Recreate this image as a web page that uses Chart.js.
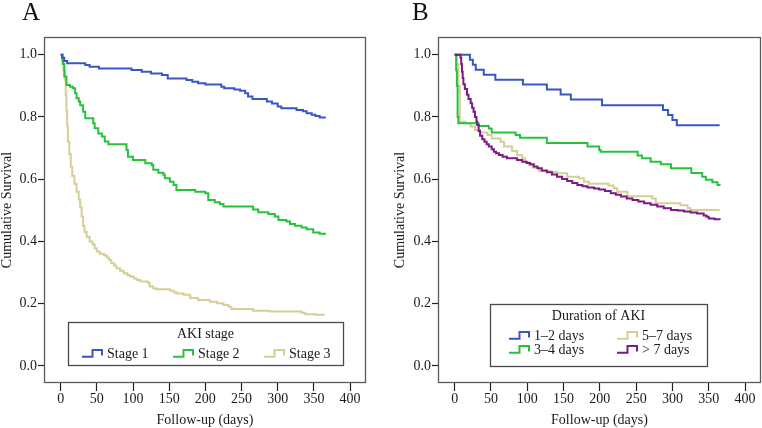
<!DOCTYPE html>
<html><head><meta charset="utf-8">
<script src="https://cdn.jsdelivr.net/npm/chart.js@4/dist/chart.umd.min.js"></script>
<style>
html,body{margin:0;padding:0;background:#fff;}
#wrap{position:relative;width:762px;height:428px;overflow:hidden;background:#fff;}
canvas{position:absolute;top:0;}
.lbl{position:absolute;font-family:"Liberation Serif","Times New Roman",serif;font-size:25px;line-height:1;top:-1px;color:#111;}
</style></head>
<body><div id="wrap">
<canvas id="cA" width="381" height="428" style="left:0;width:381px;height:428px"></canvas>
<canvas id="cB" width="381" height="428" style="left:381px;width:381px;height:428px"></canvas>
<div class="lbl" style="left:22px">A</div>
<div class="lbl" style="left:412px">B</div>
</div>
<script>
// ---- tick labels ----
const xTicks = [0, 50, 100, 150, 200, 250, 300, 350, 400];
const yTicks = [0.0, 0.2, 0.4, 0.6, 0.8, 1.0];

// ---- Panel A: AKI stage ----
const legendTitleA = 'AKI stage';
const seriesA = ['Stage 1', 'Stage 2', 'Stage 3'];
const stage1Days = [0,2,5,9,34,40,53,98,112,125,140,148,174,182,190,200,222,226,240,248,255,259,265,285,292,300,305,326,335,340,347,352,358,365];
const stage1Surv = [1.0,0.99,0.98,0.973,0.967,0.961,0.956,0.951,0.945,0.940,0.935,0.924,0.919,0.913,0.908,0.904,0.897,0.892,0.888,0.884,0.876,0.866,0.858,0.850,0.843,0.834,0.828,0.822,0.818,0.812,0.807,0.803,0.798,0.795];
const stage2Days = [0,3,5,8,13,17,20,22,25,27,31,34,45,47,52,57,61,66,91,93,100,117,126,128,135,142,144,151,156,160,186,200,204,213,220,225,266,273,287,296,301,312,317,324,333,340,349,358,365];
const stage2Surv = [1.0,0.97,0.93,0.903,0.897,0.892,0.876,0.86,0.85,0.838,0.817,0.796,0.78,0.764,0.747,0.737,0.721,0.712,0.694,0.672,0.662,0.651,0.646,0.63,0.621,0.614,0.603,0.592,0.581,0.565,0.56,0.555,0.533,0.526,0.52,0.512,0.503,0.494,0.488,0.48,0.469,0.464,0.456,0.45,0.445,0.439,0.429,0.425,0.421];
const stage3Days = [0,2,4,6,7,8,9,10,12,14,16,19,22,25,27,29,31,33,36,40,44,47,50,54,60,64,67,70,74,77,82,87,92,96,101,105,110,121,123,128,133,151,156,160,170,179,190,206,216,225,232,236,266,289,333,338,352,365];
const stage3Surv = [1.0,0.98,0.95,0.92,0.87,0.82,0.77,0.72,0.68,0.64,0.61,0.585,0.56,0.535,0.51,0.48,0.45,0.43,0.415,0.4,0.39,0.378,0.368,0.36,0.355,0.348,0.34,0.33,0.322,0.314,0.306,0.298,0.292,0.287,0.281,0.276,0.271,0.266,0.255,0.249,0.246,0.242,0.237,0.233,0.229,0.218,0.212,0.206,0.201,0.196,0.19,0.183,0.177,0.175,0.171,0.166,0.164,0.164];

// ---- Panel B: Duration of AKI ----
const legendTitleB = 'Duration of AKI';
const seriesB = ['1\u20132 days', '3\u20134 days', '5\u20137 days', '> 7 days'];
const dur12Days = [0,21,25,29,40,56,94,127,146,160,203,287,294,300,306,365];
const dur12Surv = [1.0,0.984,0.968,0.952,0.936,0.92,0.904,0.888,0.872,0.856,0.838,0.822,0.806,0.79,0.773,0.773];
const dur34Days = [0,2,3,4,5,33,47,51,84,90,127,183,199,201,252,258,270,284,298,326,341,346,355,362,365];
const dur34Surv = [1.0,0.95,0.9,0.8,0.78,0.771,0.763,0.75,0.742,0.733,0.716,0.705,0.694,0.688,0.676,0.667,0.656,0.648,0.635,0.62,0.608,0.598,0.59,0.581,0.579];
const dur57Days = [0,3,5,7,15,22,28,35,45,51,63,68,79,86,93,97,102,107,116,132,141,155,171,178,185,212,219,224,238,272,277,311,321,325,365];
const dur57Surv = [1.0,0.97,0.9,0.785,0.78,0.769,0.758,0.75,0.742,0.731,0.72,0.705,0.691,0.678,0.667,0.656,0.646,0.637,0.626,0.623,0.619,0.608,0.603,0.592,0.585,0.58,0.571,0.56,0.545,0.538,0.523,0.516,0.507,0.501,0.501];
const dur7Days = [0,8,9,10,11,12,14,17,19,22,24,26,28,30,31,33,35,38,41,44,47,51,54,57,61,66,72,86,93,99,104,109,114,120,127,134,141,148,155,162,169,176,183,192,199,207,215,222,229,237,245,253,261,270,279,288,298,307,316,325,334,343,347,350,358,365];
const dur7Surv = [1.0,0.99,0.97,0.945,0.925,0.905,0.89,0.871,0.858,0.844,0.83,0.817,0.8,0.785,0.774,0.755,0.74,0.728,0.72,0.712,0.705,0.696,0.688,0.683,0.678,0.672,0.667,0.662,0.656,0.652,0.648,0.641,0.635,0.628,0.622,0.615,0.608,0.601,0.594,0.588,0.581,0.577,0.573,0.57,0.567,0.562,0.555,0.55,0.544,0.538,0.533,0.528,0.523,0.518,0.512,0.507,0.501,0.499,0.496,0.493,0.49,0.483,0.479,0.474,0.471,0.469];

// ---- styling ----
const FONT = '"Liberation Serif","Times New Roman",serif';
const TXT = '#1a1a1a';
const BLUE = '#3a56c4', GREEN = '#27c23c', TAN = '#d6cf94', PURPLE = '#7b1a85';

function pts(days, surv) { return days.map((d, i) => ({ x: d, y: surv[i] })); }
function ds(label, days, surv, color, order) {
  return { label, data: pts(days, surv), borderColor: color, backgroundColor: color,
           borderWidth: 2, stepped: true, pointRadius: 0, fill: false, order };
}

const framePlugin = {
  id: 'frame',
  afterDatasetsDraw(chart) {
    const { ctx, chartArea: a } = chart;
    ctx.save();
    ctx.strokeStyle = '#5a5a5a';
    ctx.lineWidth = 1.3;
    ctx.strokeRect(a.left + 0.5, a.top + 0.5, a.right - a.left - 1, a.bottom - a.top - 1);
    ctx.restore();
  }
};

const kmLegend = {
  id: 'kmLegend',
  afterDraw(chart, args, o) {
    if (!o || !o.title) return;
    const { ctx, chartArea: a } = chart;
    const bx = a.left + o.offLeft, bw = (a.right - o.offRight) - bx;
    const by = a.bottom - o.offBottom - o.height, bh = o.height;
    ctx.save();
    ctx.fillStyle = '#fff';
    ctx.fillRect(bx, by, bw, bh);
    ctx.strokeStyle = '#4a4a4a';
    ctx.lineWidth = 1.3;
    ctx.strokeRect(bx + 0.5, by + 0.5, bw, bh);
    ctx.fillStyle = TXT;
    ctx.font = '14px ' + FONT;
    ctx.textBaseline = 'middle';
    ctx.textAlign = 'center';
    ctx.fillText(o.title, bx + bw / 2 + o.titleShift, by + o.titleY);
    ctx.textAlign = 'left';
    chart.data.datasets.forEach((d, i) => {
      const col = Math.floor(i / o.rows), row = i % o.rows;
      const sx = bx + o.cols[col];
      const cy = by + o.rowY[row];
      ctx.strokeStyle = d.borderColor;
      ctx.lineWidth = 2;
      ctx.beginPath();
      ctx.moveTo(sx, cy + 2.7);
      ctx.lineTo(sx + 10.5, cy + 2.7);
      ctx.lineTo(sx + 10.5, cy - 4);
      ctx.lineTo(sx + 20, cy - 4);
      ctx.lineTo(sx + 20, cy + 1.5);
      ctx.stroke();
      ctx.fillStyle = TXT;
      ctx.fillText(d.label, sx + 25, cy);
    });
    ctx.restore();
  }
};

function makeChart(id, datasets, legendCfg, padLeft, padRight, yWidth) {
  return new Chart(document.getElementById(id), {
    type: 'line',
    data: { datasets },
    options: {
      responsive: false, animation: false, devicePixelRatio: 1,
      layout: { padding: { left: padLeft, right: padRight, top: 37, bottom: 1 } },
      plugins: { legend: { display: false }, tooltip: { enabled: false }, title: { display: false },
                 kmLegend: legendCfg },
      scales: {
        x: {
          type: 'linear', min: -23, max: 422,
          afterBuildTicks: s => { s.ticks = xTicks.map(v => ({ value: v })); },
          afterFit: s => { s.height = 44; },
          grid: { display: true, drawOnChartArea: false, drawTicks: true, tickLength: 8, tickColor: '#222', tickWidth: 1.2 },
          border: { display: false },
          ticks: { font: { family: FONT, size: 14 }, color: TXT, padding: 0, maxRotation: 0, autoSkip: false,
                   callback: v => String(v) },
          title: { display: true, text: 'Follow-up (days)', font: { family: FONT, size: 14, lineHeight: 1 }, color: TXT, padding: 0 }
        },
        y: {
          type: 'linear', min: -0.055, max: 1.057,
          afterBuildTicks: s => { s.ticks = yTicks.map(v => ({ value: v })); },
          afterFit: s => { s.width = yWidth; },
          grid: { display: true, drawOnChartArea: false, drawTicks: true, tickLength: 6, tickColor: '#222', tickWidth: 1.2 },
          border: { display: false },
          ticks: { font: { family: FONT, size: 14 }, color: TXT, padding: 1, autoSkip: false,
                   callback: v => Number(v).toFixed(1) },
          title: { display: true, text: 'Cumulative Survival', font: { family: FONT, size: 14, lineHeight: 1 }, color: TXT, padding: 0 }
        }
      }
    },
    plugins: [framePlugin, kmLegend]
  });
}

makeChart('cA', [
  ds(seriesA[0], stage1Days, stage1Surv, BLUE, 0),
  ds(seriesA[1], stage2Days, stage2Surv, GREEN, 1),
  ds(seriesA[2], stage3Days, stage3Surv, TAN, 2)
], { title: legendTitleA, offLeft: 24, offRight: 23, offBottom: 18, height: 43, titleY: 12, titleShift: 0,
     rows: 1, rowY: [32], cols: [14, 105, 196] }, 0, 15, 44);

makeChart('cB', [
  ds(seriesB[0], dur12Days, dur12Surv, BLUE, 1),
  ds(seriesB[1], dur34Days, dur34Surv, GREEN, 2),
  ds(seriesB[2], dur57Days, dur57Surv, TAN, 3),
  ds(seriesB[3], dur7Days, dur7Surv, PURPLE, 0)
], { title: legendTitleB, offLeft: 52, offRight: 54, offBottom: 17, height: 62, titleY: 12, titleShift: 0,
     rows: 2, rowY: [32, 46], cols: [19, 127] }, 12, 1, 45);
</script>
</body></html>
